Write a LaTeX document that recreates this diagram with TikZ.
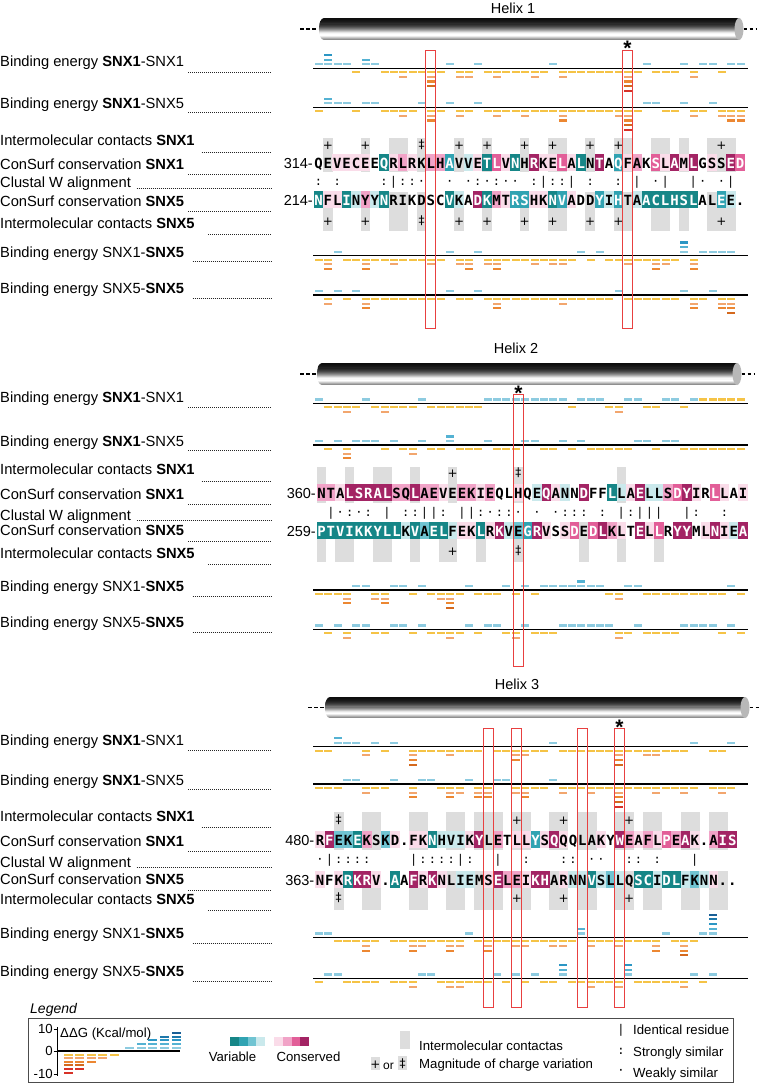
\documentclass[tikz,border=0pt]{standalone}
\usepackage{fontspec}
\setmainfont{Liberation Sans}
\newfontfamily\seqfont{DejaVu Sans Mono}
\newfontfamily\symfont{DejaVu Sans}
\definecolor{g0}{RGB}{255,255,255}
\definecolor{g1}{RGB}{22,134,135}
\definecolor{g2}{RGB}{48,163,178}
\definecolor{g3}{RGB}{112,196,210}
\definecolor{g4}{RGB}{202,233,236}
\definecolor{g5}{RGB}{255,255,255}
\definecolor{g6}{RGB}{250,220,233}
\definecolor{g7}{RGB}{241,163,199}
\definecolor{g8}{RGB}{226,94,152}
\definecolor{g9}{RGB}{163,36,100}
\colorlet{t0}{black}\colorlet{t1}{white}\colorlet{t2}{white}\colorlet{t3}{black}
\colorlet{t4}{black}\colorlet{t5}{black}\colorlet{t6}{black}\colorlet{t7}{black}
\colorlet{t8}{white}\colorlet{t9}{white}
\definecolor{b1}{RGB}{141,203,224}
\definecolor{b2}{RGB}{84,178,211}
\definecolor{b3}{RGB}{44,150,196}
\definecolor{b4}{RGB}{30,120,170}
\definecolor{b5}{RGB}{25,95,150}
\definecolor{b6}{RGB}{25,95,150}
\definecolor{o1}{RGB}{245,195,70}
\definecolor{o2}{RGB}{242,166,110}
\definecolor{o3}{RGB}{236,135,50}
\definecolor{o4}{RGB}{212,105,30}
\definecolor{o5}{RGB}{215,50,40}
\definecolor{o6}{RGB}{215,50,40}
\definecolor{redc}{RGB}{232,64,64}
\definecolor{cgray}{RGB}{221,221,221}
% binding-energy row: #1 line y, #2 list index/value
\newcommand\barrow[2]{%
  \draw[line width=1.2pt] (313,#1) -- (748,#1);
  \foreach \ci/\vv in {#2}{%
    \pgfmathsetmacro\bx{319+9.37*\ci}%
    \ifnum\vv>0
      \foreach \k in {1,...,\vv}{\fill[fill=b\k] ({\bx-4},{#1-2.8-4.7*(\k-1)}) rectangle ({\bx+4},{#1-4.9-4.7*(\k-1)});}%
    \else
      \pgfmathtruncatemacro\nn{-\vv}%
      \foreach \k in {1,...,\nn}{\fill[fill=o\k] ({\bx-4},{#1+2.8+4.7*(\k-1)}) rectangle ({\bx+4},{#1+4.9+4.7*(\k-1)});}%
    \fi}}
% sequence row: #1 x0, #2 y, #3 list letter/grade
\newcommand\seqrow[3]{%
  \foreach \ch/\gg [count=\ii from 0] in {#3}{%
    \ifnum\gg=5\relax\else\ifnum\gg=0\relax\else
      \fill[fill=g\gg] ({#1+9.37*\ii-4.8},{#2-9}) rectangle ({#1+9.37*\ii+4.8},{#2+8});
    \fi\fi}%
  \foreach \ch/\gg [count=\ii from 0] in {#3}{%
    \node[seqtxt,text=t\gg] at ({#1+9.37*\ii},{#2+5.1}) {\ch};}}
% contact boxes: #1 x0, #2 top, #3 bottom, #4 list
\newcommand\contacts[4]{%
  \foreach \ci in {#4}{\fill[cgray] ({#1+9.37*\ci-4.8},#2) rectangle ({#1+9.37*\ci+4.8},#3);}}
\newcommand\plusses[4]{% x0, y, plus list, ddagger list
  \foreach \ci in {#3}{\node[symtxt] at ({#1+9.37*\ci},{#2+4.2}) {+};}
  \foreach \ci in {#4}{\node[symtxt] at ({#1+9.37*\ci},{#2+3.2}) {‡};}}
\newcommand\clustal[3]{%
  \foreach \ci/\s in {#3}{\node[clutxt] at ({#1+9.37*\ci},{#2+3.5}) {\s};}}
\newcommand\helix[5]{% x0 x1 ytop ybot dash-left-start
  \begin{scope}
    \clip ({#1+5},#3) -- (#2,#3) -- (#2,#4) -- ({#1+5},#4) .. controls ({#1-1.7},#4) and ({#1-1.7},#3) .. ({#1+5},#3) -- cycle;
    \foreach \bl [count=\j from 0] in {95,94,92,90,87,83,78,72,64,55,45,34,22,10,3,0,8,20,32,44} {
      \fill[black!\bl] ({#1-3},{#3+(#4-#3)*\j/20}) rectangle ({#2+1},{#3+(#4-#3)*(\j+1)/20+0.3});}
  \end{scope}
  \fill[black!28] (#2,{(#3+#4)/2}) ellipse [x radius=4.5, y radius={(#4-#3)/2}];
  \draw[line width=1.6pt, dash pattern=on 3.5pt off 2.5pt] (#5,{(#3+#4)/2}) -- ({#1-1},{(#3+#4)/2});
  \draw[line width=1.6pt, dash pattern=on 3.5pt off 2.5pt] ({#2+4.5},{(#3+#4)/2}) -- ({#2+18},{(#3+#4)/2});}
\newcommand\lbls[9]{%
  \node[lab] at (0,{#1+5.3}) {Binding energy \textbf{SNX1}-SNX1};
  \draw[dotl] (188,{#1+10.6}) -- (271,{#1+10.6});
  \node[lab] at (0,{#2+5.3}) {Binding energy \textbf{SNX1}-SNX5};
  \draw[dotl] (188,{#2+9.4}) -- (271,{#2+9.4});
  \node[lab] at (0,{#3+5.3}) {Intermolecular contacts \textbf{SNX1}};
  \draw[dotl] (201.7,{#3+12}) -- (271,{#3+12});
  \node[lab] at (0,{#4+5.3}) {ConSurf conservation \textbf{SNX1}};
  \draw[dotl] (188,{#4+10.3}) -- (271,{#4+10.3});
  \node[lab] at (0,{#5+5.3}) {Clustal W alignment};
  \draw[dotl] (136.7,{#5+5.6}) -- (271,{#5+5.6});
  \node[lab] at (0,{#6+5.3}) {ConSurf conservation \textbf{SNX5}};
  \draw[dotl] (188,{#6+10.7}) -- (271,{#6+10.7});
  \node[lab] at (0,{#7+5.3}) {Intermolecular contacts \textbf{SNX5}};
  \draw[dotl] (208,{#7+11.3}) -- (271,{#7+11.3});
  \node[lab] at (0,{#8+5.3}) {Binding energy SNX1-\textbf{SNX5}};
  \draw[dotl] (192.7,{#8+10}) -- (271,{#8+10});
  \node[lab] at (0,{#9+5.3}) {Binding energy SNX5-\textbf{SNX5}};
  \draw[dotl] (192.7,{#9+10}) -- (271,{#9+10});}
\begin{document}
\begin{tikzpicture}[x=1pt,y=-1pt,
  lab/.style={anchor=base west, inner sep=0, font=\fontsize{14.7}{16}\selectfont},
  seqtxt/.style={anchor=base, inner sep=0, font=\seqfont\bfseries\fontsize{14}{14}\selectfont},
  numtxt/.style={anchor=base east, inner sep=0, font=\fontsize{14.5}{16}\selectfont},
  clutxt/.style={anchor=base, inner sep=0, font=\seqfont\fontsize{12}{12}\selectfont},
  symtxt/.style={anchor=base, inner sep=0, font=\symfont\fontsize{12}{12}\selectfont},
  dotl/.style={line width=0.7pt, dash pattern=on 0.9pt off 1.1pt, black!85},
  redbox/.style={draw=redc, line width=1.5pt},
  ttl/.style={anchor=base, inner sep=0, font=\fontsize{14.5}{16}\selectfont},
  star/.style={anchor=base, inner sep=0, font=\bfseries\fontsize{21}{21}\selectfont},
  legtxt/.style={anchor=base west, inner sep=0, font=\fontsize{13.2}{15}\selectfont}]
\fill[white] (0,0) rectangle (759,1086);
\useasboundingbox (0,0) rectangle (759,1086);

%================ PANEL 1 =================
\node[ttl] (h1) at (513,13.5) {Helix 1};
\helix{319}{739}{18}{40}{300}
\lbls{61.7}{103.3}{140.7}{164}{182.7}{201}{222.7}{251.7}{288.3}
\barrow{68.3}{0/1,1/3,2/1,3/1,4/-1,5/2,6/1,7/-1,8/-1,9/-2,10/-1,11/-1,12/-4,13/-1,14/1,15/-2,16/-2,17/1,18/-1,19/-2,20/-1,21/-1,22/-1,23/-2,24/-1,25/1,26/-2,27/-1,28/-1,29/-1,30/-1,31/-1,32/-1,33/-5,34/-1,35/1,36/-1,37/-1,38/-1,39/1,40/-2,41/1,42/1,43/-1,44/1,45/1}
\barrow{107.3}{0/-1,1/2,2/1,3/1,4/-1,5/1,6/1,7/-1,8/-1,9/-2,10/-1,11/1,12/-3,13/-1,14/1,15/-2,16/-1,17/1,18/-1,19/-2,20/-1,21/-1,22/-2,23/-1,24/-1,25/-1,26/-3,27/-1,28/-1,29/-1,30/-1,31/-1,32/-2,33/-5,34/-1,35/1,36/1,37/-1,38/-1,39/1,40/-2,41/-1,42/1,43/-2,44/-3,45/-3}
\contacts{318.5}{138}{172}{1,5,8,9,11,15,18,22,25,26,29,32,33,36,37,39,42,43,44}
\contacts{318.5}{192}{231}{1,5,8,9,11,15,18,22,25,26,29,32,33,36,37,39,42,43,44}
\plusses{318.5}{145}{1,5,15,18,22,25,29,32,43}{11}
\plusses{318.5}{221.7}{1,5,15,18,22,25,29,32,43}{11}
\node[numtxt] (n314) at (313,168.2) {314-};
\node[numtxt] (n214) at (313,205.2) {214-};
\seqrow{318.5}{163}{Q/5,E/5,V/6,E/6,C/6,E/6,E/5,Q/1,R/6,L/7,R/6,K/5,L/7,H/7,A/2,V/5,V/4,E/6,T/1,L/8,V/6,N/1,H/5,R/9,K/6,E/6,L/8,A/6,L/1,N/5,T/9,A/5,Q/2,F/6,A/7,K/5,S/8,L/6,A/9,M/6,L/9,G/5,S/6,S/5,E/9,D/8}
\seqrow{318.5}{200}{N/1,F/6,L/6,I/1,N/4,Y/7,Y/4,N/1,R/5,I/5,K/5,D/5,S/5,C/5,V/1,K/4,A/5,D/9,K/1,M/7,T/6,R/2,S/2,H/6,K/6,N/1,V/2,A/6,D/5,D/5,Y/2,I/4,H/2,T/5,A/4,A/1,C/1,L/1,H/1,S/1,L/1,A/5,L/5,E/2,E/4,./0}
\clustal{318.5}{182}{0/:,2/:,7/:,8/|,9/:,10/:,11/·,14/·,16/·,17/:,18/·,19/:,20/·,21/·,23/:,24/|,25/:,26/:,27/|,29/:,32/:,34/|,36/·,37/|,40/|,41/·,43/·,44/|}
\barrow{255.7}{0/-1,1/-3,2/1,3/-1,4/-1,5/-3,6/-1,7/-1,8/-2,9/-1,10/-1,11/-1,12/-2,13/-1,14/1,15/-2,16/-3,17/1,18/-2,19/-3,20/-1,21/-1,22/-1,23/-2,24/-1,25/-2,26/-2,27/-1,28/1,29/-1,30/1,31/-1,32/-1,33/-2,34/-1,35/-1,36/-3,37/-2,38/-1,39/3,40/-3,41/1,42/1,43/1,44/1}
\barrow{295}{0/1,1/-2,2/1,3/-1,4/1,5/-3,6/-1,7/-1,8/-1,9/-1,10/-1,11/-1,12/-1,13/-1,14/1,15/-1,16/-1,17/1,18/-1,19/-3,20/-1,21/-1,22/-1,23/-1,24/-1,25/-1,26/-2,27/-1,28/-1,29/-1,30/-1,31/-1,32/1,33/-1,34/-1,35/-1,36/-1,37/-1,38/-1,39/1,40/-3,41/-1,42/1,43/-3,44/-4}
\draw[redbox] (425.5,50.5) rectangle (435.5,328.5);
\draw[redbox] (622.5,50.5) rectangle (632.5,328.5);
\node[star] (s1) at (627.5,56) {*};

%================ PANEL 2 =================
\node[ttl] (h2) at (516,353) {Helix 2};
\helix{317}{737}{363}{385}{300}
\lbls{396.7}{441}{469}{494.5}{514.7}{530.5}{552.7}{586}{622.6}
\barrow{403.3}{0/1,1/-1,2/-1,3/-2,4/-1,5/1,6/-1,7/-2,8/-1,9/-1,10/-1,11/1,12/-1,13/-1,14/-1,15/-1,16/-1,17/-1,18/1,19/1,20/1,21/1,22/1,23/1,24/1,25/1,26/1,27/-1,28/1,29/1,30/1,31/-1,32/-2,33/1,34/1,35/-1,36/-1,37/1,38/1,39/-1,40/1}
\foreach \ci in {41,...,45}{\fill[o1] ({319+9.37*\ci-4},{403.3-2.8}) rectangle ({319+9.37*\ci+4},{403.3-4.9});}
\barrow{445}{0/1,1/-1,2/1,3/-3,4/1,5/1,6/1,7/-1,8/1,9/-1,10/-2,11/1,12/-1,13/-1,14/2,15/-1,16/-1,17/-1,18/1,19/-1,20/-1,21/-1,22/1,23/1,24/-1,25/-1,26/1,27/-1,28/1,29/-1,30/-1,31/-1,32/-1,33/-1,34/1,35/1,36/-1,37/1,38/1,39/-1,40/-1,41/-1,42/-1,43/-1,44/-1,45/-1}
\contacts{321.5}{467}{503}{0,3,6,7,10,14,21,32}
\contacts{321.5}{522}{562}{0,2,3,6,7,10,13,14,17,21,28,32,36}
\plusses{321.5}{473.3}{14}{21}
\plusses{321.5}{551.7}{14}{21}
\node[numtxt] (n360) at (316,498.2) {360-};
\node[numtxt] (n259) at (316,536.2) {259-};
\seqrow{321.5}{493}{N/7,T/7,A/6,L/9,S/9,R/9,A/9,L/9,S/7,Q/7,L/9,A/7,E/7,V/6,E/5,E/7,K/7,I/6,E/7,Q/5,L/5,H/6,Q/5,E/4,Q/9,A/6,N/4,N/5,D/9,F/5,F/5,L/1,L/4,A/6,E/9,L/4,L/4,S/7,D/8,Y/9,I/6,R/5,L/8,L/6,A/5,I/6}
\seqrow{321.5}{531}{P/1,T/1,V/1,I/1,K/1,K/1,Y/1,L/1,L/1,K/4,V/1,A/3,E/1,L/1,F/4,E/6,K/6,L/1,R/6,K/9,V/4,E/3,G/2,R/9,V/6,S/5,S/6,D/8,E/5,D/8,L/9,K/7,L/6,T/5,E/9,L/6,L/8,R/5,Y/9,Y/9,M/5,L/6,N/9,I/6,E/4,A/9}
\clustal{321.5}{513}{1/|,2/·,3/:,4/·,5/:,7/|,9/:,10/:,11/|,12/|,13/:,15/|,16/|,17/:,18/·,19/:,20/:,21/·,23/·,25/·,26/:,27/:,28/:,30/:,32/|,33/:,34/|,35/|,36/|,39/|,40/:,43/:}
\barrow{590}{0/-1,1/-1,2/-1,3/-3,4/1,5/1,6/-2,7/-3,8/1,9/1,10/-1,11/1,12/-1,13/-2,14/-4,15/-1,16/1,17/-1,18/-1,19/-1,20/1,21/-1,22/1,23/-1,24/1,25/1,26/1,27/1,28/2,29/1,30/1,31/-1,32/-2,33/1,34/1,35/-1,36/-1,37/-1,38/-1,39/-1,40/-1,41/-1,42/-1,43/-1,44/1,45/-1}
\barrow{629.3}{0/1,1/-1,2/1,3/-2,4/1,5/1,6/-1,7/-1,8/1,9/1,10/-1,11/1,12/-1,13/-1,14/-2,15/-1,16/1,17/-1,18/1,19/1,20/-1,21/-2,22/1,23/-1,24/-1,25/-1,26/1,27/1,28/1,29/1,30/1,31/1,32/-2,33/-1,34/1,35/-1,36/-1,37/-1,38/-1,39/1,40/1,41/1,42/1,43/-1,44/1,45/-1}
\draw[redbox] (513.5,394.5) rectangle (523.5,666.5);
\node[star] (s2) at (518.5,400) {*};

%================ PANEL 3 =================
\node[ttl] (h3) at (517,689) {Helix 3};
\helix{325}{745}{697}{718}{308}
\lbls{740.1}{780}{815.7}{841.5}{861.7}{879.5}{899}{933.3}{971.6}
\barrow{746.7}{0/-1,1/-1,2/2,3/1,4/1,5/-2,6/1,7/-1,8/1,10/-4,11/-1,12/-1,13/-1,14/-2,15/-1,16/-1,17/-1,19/-1,20/-1,21/-3,22/-2,23/-1,24/-1,25/1,26/-1,27/-1,28/-1,29/-1,30/-1,31/-1,32/-4,33/-1,34/-1,35/-2,36/-2,37/-1,38/-1,39/-1,40/1,42/-1,43/-1,44/1}
\barrow{784}{0/-1,1/-1,2/-1,3/1,4/1,5/-2,6/-1,7/-1,8/1,10/-3,11/1,12/1,13/-1,14/-3,15/-2,16/1,17/-3,18/-3,19/1,20/1,21/-2,22/-3,23/-1,24/-1,25/1,26/-2,27/-1,28/-1,29/-2,30/-1,31/-1,32/-5,33/-1,34/-1,35/-1,36/-2,37/-1,38/-1,39/-2,40/-1,42/-1,43/-2,44/-1}
\contacts{320}{812}{850}{2,5,6,10,11,14,15,17,18,19,21,22,25,26,28,29,32,33,35,36,39,40,42,43}
\contacts{320}{871}{910}{2,5,6,10,11,14,15,17,18,19,21,22,25,26,28,29,32,33,35,36,39,40,42,43}
\plusses{320}{820}{21,26,33}{2}
\plusses{320}{898}{21,26,33}{2}
\node[numtxt] (n480) at (314.5,845.2) {480-};
\node[numtxt] (n363) at (314.5,885.2) {363-};
\seqrow{320}{840}{R/6,F/9,E/3,K/3,E/1,K/7,S/5,K/3,D/6,./0,F/6,K/6,N/1,H/4,V/4,I/4,K/6,Y/9,L/5,E/7,T/5,L/6,L/6,Y/2,S/6,Q/9,Q/6,Q/5,L/5,A/5,K/6,Y/5,W/9,E/7,A/6,F/7,L/6,P/8,E/7,A/9,K/6,./0,A/7,I/9,S/9}
\seqrow{320}{880}{N/6,F/5,K/6,R/1,K/9,R/9,V/6,./0,A/1,A/5,F/9,R/6,K/9,N/6,L/5,I/4,E/4,M/5,S/6,E/9,L/7,E/7,I/6,K/9,H/9,A/5,R/6,N/4,N/4,V/1,S/4,L/3,L/4,Q/5,S/1,C/1,I/4,D/1,L/1,F/4,K/3,N/4,N/6,./0,./0}
\clustal{320}{860}{0/·,1/|,2/:,3/:,4/:,5/:,10/|,11/:,12/:,13/:,14/:,15/|,16/:,19/|,22/:,26/:,27/:,29/·,30/·,33/:,34/:,36/:,40/|}
\barrow{937.3}{0/1,1/1,2/-1,3/-1,4/-1,5/-3,6/-1,8/-1,9/-1,10/-3,11/-2,12/-1,13/-1,14/-3,15/-2,16/1,17/-1,18/-3,19/-1,20/-1,21/-2,22/-2,23/-1,24/-1,25/-2,26/-2,27/-1,28/2,29/-2,30/-1,31/-1,32/-2,33/-1,34/-1,35/-1,36/-3,37/1,38/-1,39/-4,40/-1,41/1,42/5}
\barrow{978.3}{0/-1,1/1,2/1,3/-1,4/-1,5/-1,6/-1,8/-1,9/-1,10/-2,11/1,12/1,13/-1,14/-2,15/-2,16/-1,17/-1,18/-1,19/1,20/-1,21/1,22/-1,23/1,24/-1,25/-1,26/3,27/-1,28/-1,29/-2,30/-1,31/-1,32/-2,33/3,34/-1,35/-1,36/-1,37/-1,38/-1,39/-2,40/1,41/-1,42/1}
\draw[redbox] (483.5,728.5) rectangle (493.5,1007.5);
\draw[redbox] (511.5,728.5) rectangle (521.5,1007.5);
\draw[redbox] (577.5,728.5) rectangle (587.5,1007.5);
\draw[redbox] (614.5,728.5) rectangle (624.5,1007.5);
\node[star] (s3) at (619.5,734) {*};

%================ LEGEND =================
\node[anchor=base west, inner sep=0, font=\itshape\fontsize{14}{16}\selectfont] (leg) at (30,1013) {Legend};
\draw[black!70, line width=0.8pt] (28,1018) rectangle (733,1082);
\draw[line width=0.8pt] (57.5,1027) -- (57.5,1076);
\foreach \ty in {1029,1051,1074}{\draw[line width=0.8pt] (53.5,\ty) -- (57.5,\ty);}
\node[anchor=base east, inner sep=0, font=\fontsize{13.2}{15}\selectfont] (l10) at (53,1033.7) {10};
\node[anchor=base east, inner sep=0, font=\fontsize{13.2}{15}\selectfont] (l0) at (53,1055.7) {0};
\node[anchor=base east, inner sep=0, font=\fontsize{13.2}{15}\selectfont] (lm10) at (53,1078.7) {-10};
\node[legtxt] (ddg) at (60,1037.5) {ΔΔG (Kcal/mol)};
\draw[line width=1.2pt] (57.5,1051) -- (180,1051);
\foreach \lx/\lc in {129/1,141/2,152/3,164/4,176/5}{
  \foreach \k in {1,...,\lc}{\fill[fill=b\k] ({\lx-4.5},{1051-2.5-3.6*(\k-1)}) rectangle ({\lx+4.5},{1051-4.5-3.6*(\k-1)});}}
\foreach \lx/\lc in {68/6,79/5,91/3,102/2,114/1}{
  \foreach \k in {1,...,\lc}{\fill[fill=o\k] ({\lx-4.5},{1051+2.5+3.6*(\k-1)}) rectangle ({\lx+4.5},{1051+4.5+3.6*(\k-1)});}}
\foreach \k in {1,...,9}{\fill[fill=g\k] ({230+8.8*(\k-1)},1037) rectangle ({230+8.8*\k+0.2},1046);}
\node[anchor=base, inner sep=0, font=\fontsize{13.2}{15}\selectfont] (lvar) at (232.5,1061.5) {Variable};
\node[anchor=base, inner sep=0, font=\fontsize{13.2}{15}\selectfont] (lcon) at (308.5,1061.5) {Conserved};
\fill[cgray] (400,1031) rectangle (410,1049);
\node[legtxt] (lic) at (419,1050) {Intermolecular contactas};
\fill[cgray] (371,1057) rectangle (380,1070);
\node[symtxt] (lp) at (375.5,1068) {+};
\node[anchor=base, inner sep=0, font=\fontsize{12}{14}\selectfont] (lor) at (388.5,1069) {or};
\fill[cgray] (398,1056) rectangle (407,1070);
\node[symtxt] (ldd) at (402.5,1067) {‡};
\node[legtxt] (lmag) at (419,1068) {Magnitude of charge variation};
\node[clutxt] (lid) at (621,1033.5) {|};
\node[legtxt] (lidt) at (633,1034) {Identical residue};
\node[clutxt] (lss) at (621,1054.5) {:};
\node[legtxt] (lsst) at (633,1056) {Strongly similar};
\node[clutxt] (lws) at (621,1074.5) {·};
\node[legtxt] (lwst) at (633,1077) {Weakly similar};
\end{tikzpicture}
\end{document}
